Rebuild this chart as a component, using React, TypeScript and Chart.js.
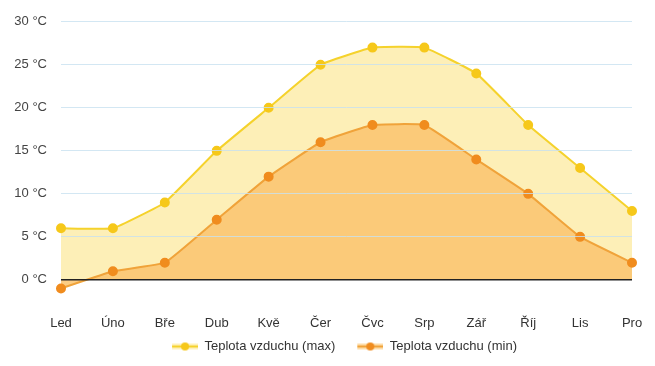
import React, { useEffect, useRef } from "react";
import { Chart, registerables } from "chart.js";

Chart.register(...registerables);

const months = ["Led", "Úno", "Bře", "Dub", "Kvě", "Čer", "Čvc", "Srp", "Zář", "Říj", "Lis", "Pro"];
const maxTemps = [6, 6, 9, 15, 20, 25, 27, 27, 24, 18, 13, 8];
const minTemps = [-1, 1, 2, 7, 12, 16, 18, 18, 14, 10, 5, 2];
const seriesNames = ["Teplota vzduchu (max)", "Teplota vzduchu (min)"];
const yTicks = [0, 5, 10, 15, 20, 25, 30];

const MAX_LINE = "#f5d22c";
const MAX_POINT = "#f6c81a";
const MAX_FILL = "rgba(253, 236, 170, 0.85)";
const MIN_LINE = "#f0a33a";
const MIN_POINT = "#f08c1e";
const MIN_FILL = "rgba(252, 196, 110, 0.85)";

const ICON_LEFT = 14;
const ICON_W = 26;

function legendIcon(line: string, point: string, band: string) {
  const c = document.createElement("canvas");
  c.width = ICON_W + ICON_LEFT;
  c.height = 10;
  const ctx = c.getContext("2d")!;
  const x0 = ICON_LEFT;
  ctx.fillStyle = band;
  ctx.fillRect(x0, 2, ICON_W, 6);
  ctx.strokeStyle = line;
  ctx.lineWidth = 2;
  ctx.beginPath();
  ctx.moveTo(x0, 5);
  ctx.lineTo(x0 + ICON_W, 5);
  ctx.stroke();
  ctx.fillStyle = point;
  ctx.beginPath();
  ctx.arc(x0 + ICON_W / 2, 5, 4, 0, Math.PI * 2);
  ctx.fill();
  return c;
}

const legendShift = {
  id: "legendShift",
  afterLayout(chart: any) {
    if (chart.legend) {
      chart.legend.left -= 9;
      chart.legend.right -= 9;
    }
  },
};

export default function App() {
  const ref = useRef<HTMLCanvasElement>(null);
  useEffect(() => {
    if (!ref.current) return;
    const icons = [
      legendIcon(MAX_LINE, MAX_POINT, "rgba(253, 230, 140, 0.6)"),
      legendIcon(MIN_LINE, MIN_POINT, "rgba(252, 196, 110, 0.6)"),
    ];
    const chart = new Chart(ref.current, {
      type: "line",
      plugins: [legendShift],
      data: {
        labels: months,
        datasets: [
          {
            label: seriesNames[0],
            data: maxTemps,
            borderColor: MAX_LINE,
            backgroundColor: MAX_FILL,
            pointBackgroundColor: MAX_POINT,
            pointBorderColor: MAX_POINT,
            pointRadius: 4,
            borderWidth: 2,
            fill: "origin",
            tension: 0.1,
            order: 2,
          },
          {
            label: seriesNames[1],
            data: minTemps,
            borderColor: MIN_LINE,
            backgroundColor: MIN_FILL,
            pointBackgroundColor: MIN_POINT,
            pointBorderColor: MIN_POINT,
            pointRadius: 4,
            borderWidth: 2,
            fill: "origin",
            tension: 0.1,
            order: 1,
          },
        ],
      },
      options: {
        animation: false,
        responsive: true,
        maintainAspectRatio: false,
        layout: { padding: { top: 0, right: 15, left: 0, bottom: -5 } },
        scales: {
          x: {
            offset: false,
            grid: { display: false, drawTicks: false },
            border: { display: false },
            afterFit: (scale: any) => {
              scale.height = 19;
            },
            ticks: { color: "#333", font: { family: "'Liberation Sans', Arial, sans-serif", size: 13 }, padding: 3 },
          },
          y: {
            min: -3.85,
            max: 30,
            afterBuildTicks: (scale: any) => {
              scale.ticks = yTicks.map((v) => ({ value: v }));
            },
            afterFit: (scale: any) => {
              scale.width = 53;
            },
            grid: {
              drawTicks: true,
              tickLength: 8,
              tickColor: "rgba(0,0,0,0)",
              color: (ctx: any) => (ctx.tick && ctx.tick.value === 0 ? "#222" : "rgba(200, 225, 240, 0.8)"),
              lineWidth: (ctx: any) => (ctx.tick && ctx.tick.value === 0 ? 1.5 : 1),
              z: 1,
            },
            border: { display: false },
            ticks: {
              color: "#444",
              padding: 6,
              font: { family: "'Liberation Sans', Arial, sans-serif", size: 13 },
              callback: (v: any) => `${v} °C`,
            },
          },
        },
        plugins: {
          tooltip: { enabled: false },
          legend: {
            position: "bottom",
            fullSize: false,
            labels: {
              usePointStyle: true,
              pointStyleWidth: ICON_W + ICON_LEFT,
              color: "#333",
              padding: 8,
              font: { family: "'Liberation Sans', Arial, sans-serif", size: 13 },
              sort: (a: any, b: any) => a.datasetIndex - b.datasetIndex,
              generateLabels: (chart: any) => {
                const base = Chart.defaults.plugins.legend.labels.generateLabels(chart);
                return base.map((l: any) => ({ ...l, pointStyle: icons[l.datasetIndex] }));
              },
            },
          },
        },
      },
    });
    return () => chart.destroy();
  }, []);
  return (
    <div style={{ width: 639, height: 350, position: "relative" }}>
      <canvas ref={ref} />
    </div>
  );
}
